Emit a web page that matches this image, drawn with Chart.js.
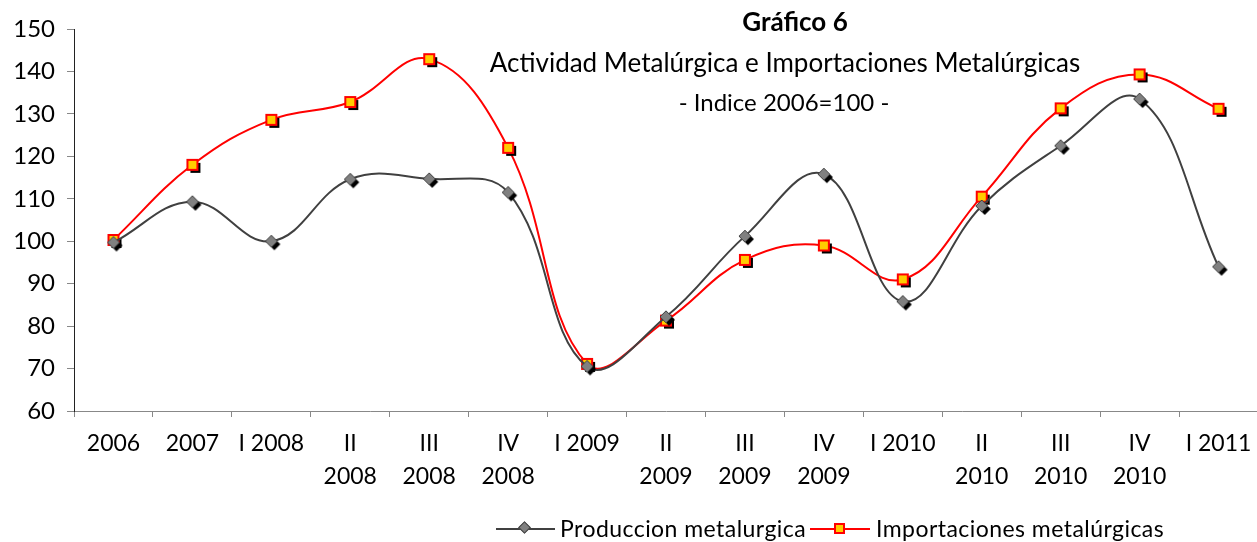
<!DOCTYPE html>
<html>
<head>
<meta charset="utf-8">
<script src="https://cdn.jsdelivr.net/npm/chart.js@4/dist/chart.umd.min.js"></script>
<style>
  body { margin: 0; background: #fff; }
  #marco { position: relative; width: 1257px; height: 542px; overflow: hidden; font-family: Lato, sans-serif; color: #000; }
  #grafica { position: absolute; left: 0; top: 0; }
  .titulo { position: absolute; white-space: nowrap; transform: translateX(-50%); line-height: 1; }
  .leyenda { position: absolute; white-space: nowrap; font-size: 23px; letter-spacing: 0.45px; line-height: 1; top: 517px; }
  .linea { position: absolute; height: 2px; }
  .marca { position: absolute; box-sizing: border-box; }
</style>
</head>
<body>
<div id="marco">
  <canvas id="grafica" width="1266" height="542"></canvas>
  <div class="titulo" style="left:795px; top:8px; font-size:26px; font-weight:bold;">Gráfico 6</div>
  <div class="titulo" style="left:785px; top:49px; font-size:26px;">Actividad Metalúrgica e Importaciones Metalúrgicas</div>
  <div class="titulo" style="left:784px; top:90px; font-size:24px;">- Indice 2006=100 -</div>

  <div class="linea" style="left:496px; width:59px; top:528px; background:#404040;"></div>
  <div class="marca" style="left:520px; top:523px; width:9px; height:9px; background:#808080; border:1px solid #404040; transform:rotate(45deg);"></div>
  <div class="leyenda" style="left:560px;">Produccion metalurgica</div>

  <div class="linea" style="left:810px; width:60px; top:528px; background:#ff0000;"></div>
  <div class="marca" style="left:834px; top:523px; width:11px; height:11px; background:#ffcc00; border:2px solid #ff0000;"></div>
  <div class="leyenda" style="left:876px;">Importaciones metalúrgicas</div>
</div>

<script>
const etiquetas = ['2006', '2007', 'I 2008', ['II', '2008'], ['III', '2008'], ['IV', '2008'], 'I 2009',
  ['II', '2009'], ['III', '2009'], ['IV', '2009'], 'I 2010', ['II', '2010'], ['III', '2010'], ['IV', '2010'], 'I 2011'];

const produccion = [99.7, 109.3, 100.0, 114.6, 114.7, 111.5, 70.5, 82.2, 101.2, 115.8, 85.8, 108.3, 122.5, 133.5, 94.0];
const importaciones = [100.3, 118.0, 128.6, 132.8, 142.9, 122.0, 71.1, 81.3, 95.6, 99.0, 91.0, 110.5, 131.3, 139.3, 131.2];

const ejeMin = 60;
const ejeMax = 150;
const ejePaso = 10;

// marcadores con sombra negra, como en Excel
function marcaRombo() {
  const c = document.createElement('canvas');
  c.width = 22; c.height = 22;
  const g = c.getContext('2d');
  const r = 6, cx = 11, cy = 11;
  function rombo(x, y) {
    g.beginPath();
    g.moveTo(x, y - r); g.lineTo(x + r, y); g.lineTo(x, y + r); g.lineTo(x - r, y);
    g.closePath();
  }
  g.fillStyle = '#000';
  rombo(cx + 3, cy + 3); g.fill();
  g.fillStyle = '#808080';
  g.strokeStyle = '#404040';
  g.lineWidth = 1;
  rombo(cx, cy); g.fill(); g.stroke();
  return c;
}

function marcaCuadro() {
  const c = document.createElement('canvas');
  c.width = 22; c.height = 22;
  const g = c.getContext('2d');
  const l = 5, cx = 11, cy = 11;
  g.fillStyle = '#000';
  g.fillRect(cx - l + 3, cy - l + 3, 2 * l, 2 * l);
  g.fillStyle = '#ffcc00';
  g.fillRect(cx - l, cy - l, 2 * l, 2 * l);
  g.strokeStyle = '#ff0000';
  g.lineWidth = 2;
  g.strokeRect(cx - l, cy - l, 2 * l, 2 * l);
  return c;
}

function graficar() {
  const ctx = document.getElementById('grafica');
  Chart.defaults.font.family = 'Lato, sans-serif';
  Chart.defaults.color = '#000';

  new Chart(ctx, {
    type: 'line',
    data: {
      labels: etiquetas,
      datasets: [{
        label: 'Produccion metalurgica',
        data: produccion,
        borderColor: '#404040',
        borderWidth: 2,
        tension: 0.4,
        pointStyle: marcaRombo(),
        pointRadius: 6,
        fill: false
      }, {
        label: 'Importaciones metalúrgicas',
        data: importaciones,
        borderColor: '#ff0000',
        borderWidth: 2,
        tension: 0.4,
        pointStyle: marcaCuadro(),
        pointRadius: 6,
        fill: false
      }]
    },
    options: {
      responsive: false,
      animation: false,
      layout: { padding: { top: 29, right: 2, left: 0, bottom: 0 } },
      plugins: {
        legend: { display: false },
        title: { display: false },
        tooltip: { enabled: false }
      },
      scales: {
        x: {
          offset: true,
          afterFit: function(eje) { eje.height = 131; },
          grid: { offset: true, drawOnChartArea: false, tickLength: 6, color: '#888' },
          border: { color: '#888' },
          ticks: { maxRotation: 0, autoSkip: false, padding: 10, font: { size: 23, lineHeight: 1.45 } }
        },
        y: {
          min: ejeMin,
          max: ejeMax,
          afterFit: function(eje) { eje.width = 74; },
          grid: { drawOnChartArea: false, tickLength: 7, color: '#888' },
          border: { color: '#222' },
          ticks: { stepSize: ejePaso, padding: 12, font: { size: 24 } }
        }
      }
    }
  });
}

graficar();
</script>
</body>
</html>
